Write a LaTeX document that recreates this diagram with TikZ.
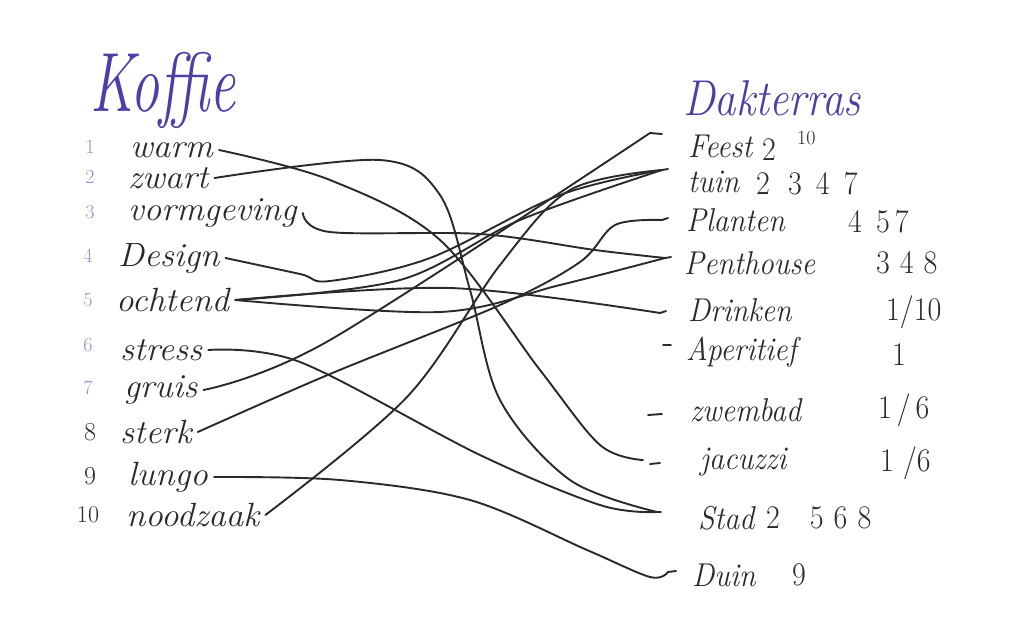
\documentclass[tikz,border=0pt]{standalone}
\usepackage{graphicx}
\usetikzlibrary{positioning}
\definecolor{ink}{HTML}{2A2A2A}
\definecolor{blueink}{HTML}{4B40A8}
\definecolor{paleink}{HTML}{8E92C6}
\newcommand\wide[1]{\scalebox{1.25}[1.2]{#1}}
\newcommand\rwide[1]{\scalebox{1}[1.1]{#1}}
\tikzset{
 word/.style={font=\fontsize{28}{30}\selectfont\itshape,text=ink,inner sep=0pt,anchor=west},
 rword/.style={font=\fontsize{30}{34}\selectfont\itshape,text=ink,inner sep=0pt,anchor=west},
 rnr/.style={font=\fontsize{30}{34}\selectfont,text=ink,inner sep=0pt,anchor=west},
 nr/.style={font=\fontsize{20}{24}\selectfont,text=paleink,inner sep=0pt},
 link/.style={draw=ink,line width=1.9pt,line cap=round,line join=round},
 tick/.style={draw=ink,line width=1.9pt,line cap=round}
}
\begin{document}
\begin{tikzpicture}[x=1pt,y=-1pt]
 \useasboundingbox[fill=white](0,0) rectangle (1019,633);
 % titels
 \node[font=\fontsize{58}{60}\selectfont\itshape,text=blueink,inner sep=0pt] (koffie) at (163,90) {\scalebox{1}[1.45]{Koffie}};
 \node[rword,font=\fontsize{42}{44}\selectfont\itshape,text=blueink] (dakterras) at (683,98) {\scalebox{1.02}[1.2]{Dakterras}};
 % koffie
 \node[nr] (n1) at (90,147) {1};
 \node[nr] (n2) at (90,177) {2};
 \node[nr] (n3) at (90,212) {3};
 \node[nr] (n4) at (88,256) {4};
 \node[nr] (n5) at (88,300) {5};
 \node[nr] (n6) at (88,345) {6};
 \node[nr] (n7) at (88,388) {7};
 \node[nr,text=ink,font=\fontsize{26}{28}\selectfont] (n8) at (90,432) {8};
 \node[nr,text=ink,font=\fontsize{26}{28}\selectfont] (n9) at (90,476) {9};
 \node[nr,text=ink,font=\fontsize{24}{28}\selectfont] (n10) at (88,515) {10};
 \node[word] (warm) at (130,150) {\wide{warm}};
 \node[word] (zwart) at (128,178) {\wide{zwart}};
 \node[word] (vorm) at (128,213) {\wide{vormgeving}};
 \node[word] (design) at (118,258) {\wide{Design}};
 \node[word] (ochtend) at (116,300) {\wide{ochtend}};
 \node[word] (stress) at (120,350) {\wide{stress}};
 \node[word] (gruis) at (124,390) {\wide{gruis}};
 \node[word] (sterk) at (120,432) {\wide{sterk}};
 \node[word] (lungo) at (128,477) {\wide{lungo}};
 \node[word] (noodzaak) at (126,515) {\wide{noodzaak}};
 % dakterras
 \node[rword] (feest) at (688,146) {\rwide{Feest}};
 \node[rword] (tuin) at (688,182) {\rwide{tuin}};
 \node[rword] (planten) at (686,220) {\rwide{Planten}};
 \node[rword] (penthouse) at (684,263) {\rwide{Penthouse}};
 \node[rword] (drinken) at (688,310) {\rwide{Drinken}};
 \node[rword] (aperitief) at (686,352) {\rwide{Aperitief}};
 \node[rword] (zwembad) at (690,410) {\rwide{zwembad}};
 \node[rword] (jacuzzi) at (700,462) {\rwide{jacuzzi}};
 \node[rword] (stad) at (698,518) {\rwide{Stad}};
 \node[rword] (duin) at (692,575) {\rwide{Duin}};
 \node[rnr] (feestnr) at (762,150) {\rwide{2}};
 \node[rnr,font=\fontsize{20}{22}\selectfont] (feestnr2) at (797,138) {10};
 \node[rnr] (tuinnr) at (756,184) {\rwide{2\ \ 3\, 4\, 7}};
 \node[rnr] (plantennr) at (848,222) {\rwide{4\, 5\,7}};
 \node[rnr] (penthousenr) at (876,263) {\rwide{3\,\,4\,\,8}};
 \node[rnr] (drinkennr) at (886,312) {\rwide{1/10}};
 \node[rnr] (aperitiefnr) at (892,355) {\rwide{1}};
 \node[rnr] (zwembadnr) at (878,410) {\rwide{1\,/\,6}};
 \node[rnr] (jacuzzinr) at (880,463) {\rwide{1\ /6}};
 \node[rnr] (stadnr) at (766,518) {\rwide{2\quad5\,\,6\,\,8}};
 \node[rnr] (duinnr) at (792,575) {\rwide{9}};
 % eindpunten
 \coordinate (feestend) at (650,133);
 \coordinate (tuinend) at (662,170);
 \coordinate (plantenend) at (662,220);
 \coordinate (penthouseend) at (665,258);
 \coordinate (drinkenend) at (660,313);
 \coordinate (jacuzziend) at (643,460);
 \coordinate (stadend) at (657,512);
 \coordinate (duinend) at (668,572);
 \draw[tick] (feestend) -- ++(12,1);
 \draw[tick] (tuinend) -- ++(6,-1);
 \draw[tick] (plantenend) -- ++(6,-2);
 \draw[tick] (penthouseend) -- ++(6,-1);
 \draw[tick] (drinkenend) -- ++(6,-2);
 \draw[tick] (663,345) -- (671,345);
 \draw[tick] (648,415) -- (662,414);
 \draw[tick] (650,464) -- (660,463);
 \draw[tick] (stadend) -- ++(4,0);
 \draw[tick] (duinend) -- ++(8,-1);
 % lijnen
 \draw[link] plot[smooth,tension=0.55] coordinates {([xshift=6pt]warm.east) (330,180) (440,240) (540,370) (600,445) (jacuzziend)};
 \draw[link] plot[smooth,tension=0.55] coordinates {([xshift=6pt]zwart.east) (380,160) (440,195) (470,290) (500,400) (570,480) (stadend)};
 \draw[link] plot[smooth,tension=0.55] coordinates {([xshift=6pt]vorm.east) (330,232) (480,234) (595,250) (penthouseend)};
 \draw[link] plot[smooth,tension=0.55] coordinates {([xshift=6pt]design.east) (300,274) (330,281) (430,258) (560,195) (tuinend)};
 \draw[link] plot[smooth,tension=0.55] coordinates {([xshift=6pt]ochtend.east) (400,280) (520,220) (tuinend)};
 \draw[link] plot[smooth,tension=0.55] coordinates {([xshift=6pt]ochtend.east) (450,288) (drinkenend)};
 \draw[link] plot[smooth,tension=0.55] coordinates {([xshift=6pt]ochtend.east) (440,312) (560,285) (penthouseend)};
 \draw[link] plot[smooth,tension=0.55] coordinates {([xshift=6pt]stress.east) (300,362) (480,455) (600,505) (stadend)};
 \draw[link] plot[smooth,tension=0.55] coordinates {([xshift=6pt]gruis.east) (330,340) (feestend)};
 \draw[link] plot[smooth,tension=0.55] coordinates {([xshift=6pt]sterk.east) (330,374) (500,305) (580,262) (615,225) (plantenend)};
 \draw[link] plot[smooth,tension=0.55] coordinates {([xshift=6pt]lungo.east) (340,480) (470,500) (587,550) (650,577) (duinend)};
 \draw[link] plot[smooth,tension=0.55] coordinates {([xshift=6pt]noodzaak.east) (407,397) (500,265) (570,190) (tuinend)};
\end{tikzpicture}
\end{document}
